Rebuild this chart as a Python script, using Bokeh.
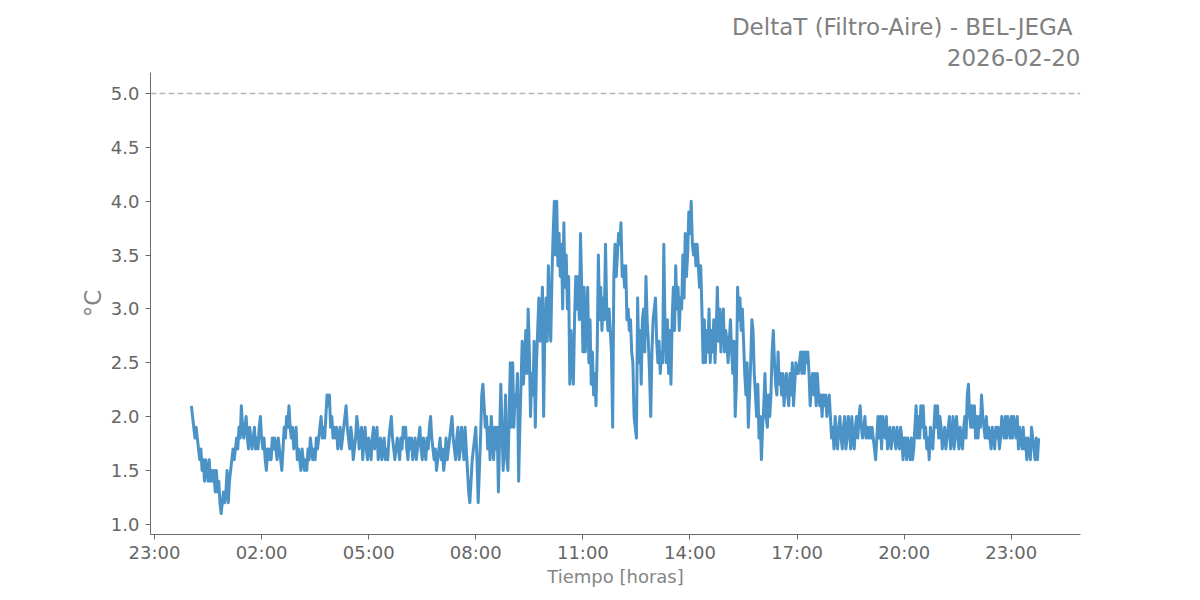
from datetime import datetime, timedelta
from bokeh.plotting import figure
from bokeh.models import (Range1d, FixedTicker, DatetimeTickFormatter,
                          PrintfTickFormatter, Span, Title)
from bokeh.embed import file_html
from bokeh.resources import INLINE

TITLE_1 = "DeltaT (Filtro-Aire) - BEL-JEGA"
TITLE_2 = "2026-02-20"
X_LABEL = "Tiempo [horas]"
Y_LABEL = "°C"
THRESHOLD = 5.0
DAY = datetime(2026, 2, 20)
STEP_MIN = 2   # each hourly list starts at HH:02, one value every 2 minutes

h00 = [2.1, 2.0, 1.9, 1.8, 1.9, 1.8, 1.7, 1.6, 1.7, 1.5, 1.6, 1.4, 1.6, 1.5, 1.4,
       1.6, 1.4, 1.5, 1.4, 1.5, 1.3, 1.5, 1.3, 1.4, 1.2, 1.1, 1.2, 1.3, 1.2, 1.3]
h01 = [1.5, 1.2, 1.4, 1.5, 1.6, 1.7, 1.6, 1.7, 1.8, 1.7, 1.9, 1.8, 2.1, 1.9, 1.8,
       1.9, 2.0, 1.8, 1.7, 1.9, 1.8, 1.7, 1.8, 1.9, 1.7, 1.8, 1.7, 1.9, 2.0, 1.8]
h02 = [1.7, 1.8, 1.6, 1.5, 1.7, 1.6, 1.7, 1.6, 1.8, 1.7, 1.8, 1.7, 1.6, 1.8, 1.7,
       1.6, 1.5, 1.7, 1.9, 1.8, 2.0, 1.9, 2.1, 1.9, 1.8, 1.9, 1.7, 1.8, 1.9, 1.6]
h03 = [1.7, 1.6, 1.5, 1.7, 1.6, 1.5, 1.6, 1.5, 1.7, 1.6, 1.8, 1.7, 1.6, 1.7, 1.6,
       1.8, 1.7, 1.8, 1.9, 2.0, 1.8, 1.9, 1.8, 2.0, 2.2, 2.1, 2.2, 1.9, 2.0, 1.8]
h04 = [1.9, 1.8, 1.9, 1.7, 1.8, 1.9, 1.7, 1.8, 1.9, 2.0, 2.1, 1.9, 1.8, 1.7, 1.9,
       1.8, 1.6, 1.7, 1.8, 2.0, 1.9, 1.7, 1.8, 1.9, 1.6, 1.8, 1.9, 1.7, 1.6, 1.8]
h05 = [1.7, 1.6, 1.8, 1.9, 1.7, 1.8, 1.9, 1.6, 1.7, 1.8, 1.6, 1.7, 1.8, 1.6, 1.7,
       1.6, 1.8, 1.9, 2.0, 1.8, 1.7, 1.6, 1.7, 1.8, 1.7, 1.6, 1.8, 1.7, 1.9, 1.8]
h06 = [1.9, 1.7, 1.6, 1.8, 1.7, 1.8, 1.6, 1.7, 1.8, 1.6, 1.7, 1.8, 1.9, 1.7, 1.6,
       1.8, 1.7, 1.6, 1.8, 1.7, 1.9, 2.0, 1.8, 1.7, 1.6, 1.7, 1.5, 1.6, 1.7, 1.8]
h07 = [1.6, 1.7, 1.5, 1.6, 1.8, 1.6, 1.7, 1.8, 1.9, 2.0, 1.8, 1.7, 1.6, 1.8, 1.9,
       1.6, 1.7, 1.9, 1.8, 1.6, 1.9, 1.7, 1.5, 1.3, 1.2, 1.4, 1.6, 1.7, 1.8, 1.9]
h08 = [1.6, 1.2, 1.5, 1.8, 2.2, 2.3, 2.1, 1.9, 2.0, 1.7, 1.9, 1.6, 2.0, 1.8, 1.6,
       1.9, 1.7, 1.9, 1.3, 1.8, 2.3, 1.9, 1.5, 1.8, 2.2, 1.6, 1.5, 2.0, 2.5, 1.9]
h09 = [2.5, 1.9, 2.2, 2.1, 2.4, 1.4, 1.9, 2.3, 2.7, 2.3, 2.5, 2.8, 2.4, 3.0, 2.6,
       2.0, 2.4, 2.2, 2.7, 1.9, 2.5, 2.8, 3.1, 2.7, 2.9, 3.2, 2.0, 2.8, 3.1, 2.7]
h10 = [3.4, 2.9, 2.7, 3.3, 3.7, 4.0, 3.5, 4.0, 3.4, 3.7, 3.3, 3.6, 3.0, 3.8, 3.2,
       3.5, 3.0, 3.3, 2.3, 2.8, 2.5, 2.3, 2.9, 3.3, 3.0, 3.3, 2.9, 3.7, 3.2, 2.6]
h11 = [3.2, 2.6, 2.9, 3.2, 2.5, 2.9, 2.3, 2.6, 2.2, 2.4, 2.1, 2.6, 3.5, 2.9, 3.2,
       2.8, 3.1, 2.9, 3.6, 3.0, 2.8, 3.0, 2.8, 2.6, 1.9, 3.3, 3.6, 3.3, 3.5, 3.7]
h12 = [3.6, 3.8, 3.3, 3.4, 3.2, 3.4, 2.9, 3.0, 2.8, 2.9, 2.6, 2.5, 2.0, 1.9, 1.8,
       3.1, 2.5, 2.8, 2.3, 2.9, 3.0, 2.6, 3.3, 2.9, 2.7, 2.4, 2.0, 2.6, 2.9, 3.0]
h13 = [3.1, 2.7, 2.5, 2.7, 2.4, 2.6, 2.5, 3.6, 2.8, 2.5, 2.9, 2.4, 2.8, 2.3, 2.9,
       3.2, 2.8, 3.4, 3.0, 3.2, 2.8, 3.1, 3.0, 3.5, 3.1, 3.7, 3.3, 3.5, 3.9, 3.7]
h14 = [4.0, 3.6, 3.5, 3.6, 3.4, 3.6, 3.4, 3.2, 3.4, 3.0, 2.5, 2.9, 2.5, 2.8, 2.6,
       3.0, 2.5, 2.8, 2.6, 2.9, 2.5, 2.8, 3.2, 2.7, 3.0, 2.6, 2.9, 3.0, 2.6, 2.8]
h15 = [2.7, 2.5, 2.7, 2.9, 2.6, 2.4, 2.7, 2.0, 2.3, 3.2, 2.9, 3.1, 2.8, 3.0, 2.7,
       2.4, 2.2, 2.5, 1.9, 2.2, 2.5, 2.9, 2.8, 2.4, 2.2, 2.0, 2.3, 1.8, 2.0, 1.6]
h16 = [1.9, 2.1, 2.4, 2.0, 1.9, 2.2, 2.0, 2.2, 2.6, 2.8, 2.5, 2.3, 2.2, 2.6, 2.3,
       2.4, 2.2, 2.4, 2.1, 2.3, 2.4, 2.2, 2.1, 2.4, 2.2, 2.5, 2.1, 2.3, 2.5, 2.4]
h17 = [2.4, 2.5, 2.6, 2.4, 2.6, 2.4, 2.6, 2.5, 2.6, 2.4, 2.1, 2.3, 2.4, 2.2, 2.4,
       2.1, 2.4, 2.2, 2.1, 2.2, 2.0, 2.2, 2.1, 2.2, 2.0, 2.1, 2.2, 2.0, 1.8, 1.9]
h18 = [1.7, 2.0, 1.8, 1.7, 1.9, 2.0, 1.8, 1.7, 1.9, 2.0, 1.7, 1.8, 2.0, 1.9, 1.7,
       2.0, 1.8, 1.7, 1.9, 2.0, 1.8, 2.0, 2.1, 1.9, 1.8, 1.9, 2.0, 1.8, 1.9, 1.8]
h19 = [1.9, 1.8, 1.9, 1.8, 1.7, 1.6, 1.8, 2.0, 1.8, 2.0, 1.7, 2.0, 1.9, 1.8, 2.0,
       1.7, 1.8, 1.9, 1.7, 1.8, 1.9, 1.8, 1.7, 1.9, 1.8, 1.7, 1.9, 1.8, 1.6, 1.8]
h20 = [1.8, 1.6, 1.8, 1.7, 1.6, 1.8, 1.6, 1.7, 1.9, 2.1, 1.8, 2.0, 1.8, 2.1, 1.9,
       2.1, 1.8, 1.9, 1.7, 1.8, 1.6, 1.9, 1.8, 1.7, 1.9, 2.1, 1.9, 2.1, 1.8, 2.0]
h21 = [1.9, 1.7, 1.8, 1.9, 1.7, 1.8, 1.9, 2.0, 1.7, 1.8, 2.0, 1.7, 1.9, 2.0, 1.8,
       1.7, 1.9, 1.8, 1.7, 1.9, 2.0, 1.8, 2.2, 2.3, 2.0, 1.9, 2.1, 1.9, 2.1, 1.8]
h22 = [2.0, 1.8, 2.0, 1.9, 2.2, 2.0, 1.9, 1.8, 2.0, 1.8, 1.9, 1.8, 1.7, 1.9, 1.8,
       1.7, 1.9, 1.8, 1.9, 1.7, 1.8, 2.0, 1.9, 1.8, 2.0, 1.8, 2.0, 1.9, 1.8, 2.0]
h23 = [1.8, 2.0, 1.9, 1.8, 2.0, 1.7, 1.9, 1.8, 1.7, 1.9, 1.7, 1.8, 1.6, 1.8, 1.7,
       1.6, 1.9, 1.8, 1.7, 1.6, 1.8, 1.6, 1.8]

hours = [h00, h01, h02, h03, h04, h05, h06, h07, h08, h09, h10, h11,
         h12, h13, h14, h15, h16, h17, h18, h19, h20, h21, h22, h23]
times, values = [], []
for hr, lst in enumerate(hours):
    for i, v in enumerate(lst):
        times.append(DAY + timedelta(hours=hr, minutes=2 + STEP_MIN * i))
        values.append(v)

y_ticks = [1.0, 1.5, 2.0, 2.5, 3.0, 3.5, 4.0, 4.5, 5.0]
x_tick_start = datetime(2026, 2, 19, 23, 0)
x_tick_times = [x_tick_start + timedelta(hours=3 * i) for i in range(9)]
EPOCH = datetime(1970, 1, 1)
x_tick_ms = [(t - EPOCH).total_seconds() * 1000 for t in x_tick_times]

FONT = "DejaVu Sans"
TICK_C = "#666666"
LABEL_C = "#858585"

p = figure(width=1190, height=592, x_axis_type="datetime",
           output_backend="svg", toolbar_location=None,
           x_range=Range1d(datetime(2026, 2, 19, 22, 53, 17), datetime(2026, 2, 21, 0, 56, 18)),
           y_range=Range1d(0.905, 5.195),
           min_border_left=150, min_border_right=110,
           min_border_top=72, min_border_bottom=58)
p.outline_line_color = None
p.xgrid.grid_line_color = None
p.ygrid.grid_line_color = None
p.background_fill_color = "white"
p.border_fill_color = "white"

p.line(times, values, line_color="#4b93c6", line_width=3, line_join="round")

p.add_layout(Span(location=THRESHOLD, dimension="width", line_color="#b5b5b5",
                  line_width=1.5, line_dash="6 3"))

p.xaxis.ticker = FixedTicker(ticks=x_tick_ms)
p.xaxis.formatter = DatetimeTickFormatter(
    hours="%H:%M", days="%H:%M", hourmin="%H:%M", minutes="%H:%M",
    minsec="%H:%M", seconds="%H:%M", months="%H:%M", years="%H:%M")
p.yaxis.ticker = FixedTicker(ticks=y_ticks)
p.yaxis.formatter = PrintfTickFormatter(format="%.1f")

for ax in (p.xaxis, p.yaxis):
    ax.axis_line_color = "#6a6a6a"
    ax.axis_line_width = 1
    ax.major_tick_line_color = "#6a6a6a"
    ax.major_tick_out = 5
    ax.major_tick_in = 0
    ax.minor_tick_line_color = None
    ax.major_label_text_font = FONT
    ax.major_label_text_font_size = "18px"
    ax.major_label_text_color = TICK_C
    ax.axis_label_text_font = FONT
    ax.axis_label_text_font_style = "normal"
    ax.axis_label_text_color = LABEL_C

p.xaxis.axis_label = X_LABEL
p.xaxis.axis_label_text_font_size = "18px"
p.xaxis.major_label_standoff = 2
p.xaxis.axis_label_standoff = 0
p.yaxis.axis_label = Y_LABEL
p.yaxis.axis_label_text_font_size = "23px"
p.yaxis.major_label_standoff = 6
p.yaxis.axis_label_standoff = 2

p.title.text = TITLE_1
p.title.align = "right"
p.title.text_font = FONT
p.title.text_font_size = "23px"
p.title.text_font_style = "normal"
p.title.text_color = "#808080"
p.title.standoff = 2
p.title.offset = 8

p.add_layout(Title(text=TITLE_2, align="right", text_font=FONT,
                   text_font_size="23px", text_font_style="normal",
                   text_color="#808080", standoff=13), "above")

open("out.html", "w").write(file_html(p, INLINE))
